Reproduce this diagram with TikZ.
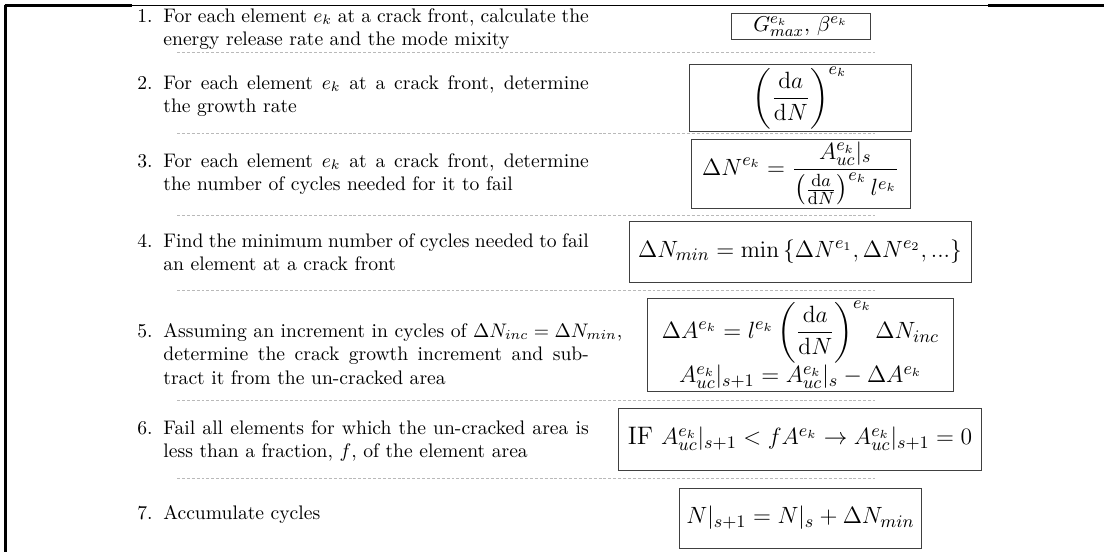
\documentclass[tikz,border=0pt]{standalone}
\usepackage{amsmath}
\usepackage{amssymb}
\tikzset{
    itemnum/.style={anchor=base west, inner sep=0pt},
    itemtext/.style={anchor=base west, inner sep=0pt, text width=217pt, align=justify},
    eqbox/.style={draw=black!75, line width=0.5pt, inner sep=1pt, font=\fontsize{12.9}{15.5}\selectfont},
    sepline/.style={gray!55, dash pattern=on 1.5pt off 1pt, line width=0.4pt}
}

\begin{document}
\begin{tikzpicture}[x=0.51pt, y=-0.51pt]
    \useasboundingbox (0,0) rectangle (1104,552);

    % frame pieces
    \draw[line width=1.1pt] (5.5,5) -- (5.5,552);
    \draw[line width=1.1pt] (4.5,5.5) -- (132,5.5);
    \draw[line width=0.5pt] (132,5.2) -- (988,5.2);
    \draw[line width=1.1pt] (988,5.5) -- (1104,5.5);

    % separators
    \foreach \y in {52, 133, 215, 290, 400, 478}
    {
        \draw[sepline] (177,\y) -- (875,\y);
    }

    % steps
    \node[itemnum] (n1) at (137,22) {1.};
    \node[itemtext] (t1) at (163,22) {For each element $e_k$ at a crack front, calculate the energy release rate and the mode mixity};
    \node[itemnum] (n2) at (137,89) {2.};
    \node[itemtext] (t2) at (163,89) {For each element $e_k$ at a crack front, determine the growth rate};
    \node[itemnum] (n3) at (137,167) {3.};
    \node[itemtext] (t3) at (163,167) {For each element $e_k$ at a crack front, determine the number of cycles needed for it to fail};
    \node[itemnum] (n4) at (137,247) {4.};
    \node[itemtext] (t4) at (163,247) {Find the minimum number of cycles needed to fail an element at a crack front};
    \node[itemnum] (n5) at (137,337) {5.};
    \node[itemtext] (t5) at (163,337) {\mbox{Assuming an increment in cycles of $\Delta N_{inc} = \Delta N_{min}$,}\linebreak determine the crack growth increment and subtract it from the un-cracked area};
    \node[itemnum] (n6) at (137,434) {6.};
    \node[itemtext] (t6) at (163,434) {Fail all elements for which the un-cracked area is less than a fraction, $f$, of the element area};
    \node[itemnum] (n7) at (137,519) {7.};
    \node[itemtext] (t7) at (163,519) {Accumulate cycles};

    % equations
    \node[eqbox, font=\fontsize{11}{13.5}\selectfont, minimum width=70.9pt, minimum height=12.8pt] (b1) at (800.5,26.5) {$G^{e_k}_{max},\, \beta^{e_k}$};
    \node[eqbox, minimum width=113.2pt, minimum height=33.7pt] (b2) at (800,98) {$\displaystyle \left(\frac{\mathrm{d}a}{\mathrm{d}N}\right)^{e_k}$};
    \node[eqbox, minimum width=111.7pt, minimum height=35.2pt] (b3) at (800.5,173.5) {$\displaystyle \Delta N^{e_k} = \frac{A^{e_k}_{uc}|_s}{\left(\frac{\mathrm{d}a}{\mathrm{d}N}\right)^{e_k} l^{e_k}}$};
    \node[eqbox, minimum width=174.4pt, minimum height=31.1pt] (b4) at (800,251.5) {$\Delta N_{min} = \min\left\{\Delta N^{e_1}, \Delta N^{e_2}, ...\right\}$};
    \node[eqbox, align=center, minimum width=155.6pt, minimum height=47.9pt] (b5) at (800.5,345) {$\displaystyle \Delta A^{e_k} = l^{e_k}\left(\frac{\mathrm{d}a}{\mathrm{d}N}\right)^{e_k}\Delta N_{inc}$\\$A^{e_k}_{uc}|_{s+1} = A^{e_k}_{uc}|_s - \Delta A^{e_k}$};
    \node[eqbox, minimum width=185.6pt, minimum height=31.6pt] (b6) at (800,439) {$\text{IF}\ A^{e_k}_{uc}|_{s+1} < fA^{e_k} \rightarrow A^{e_k}_{uc}|_{s+1} = 0$};
    \node[eqbox, minimum width=123.9pt, minimum height=30.6pt] (b7) at (800.5,518) {$N|_{s+1} = N|_s + \Delta N_{min}$};
\end{tikzpicture}
\end{document}
